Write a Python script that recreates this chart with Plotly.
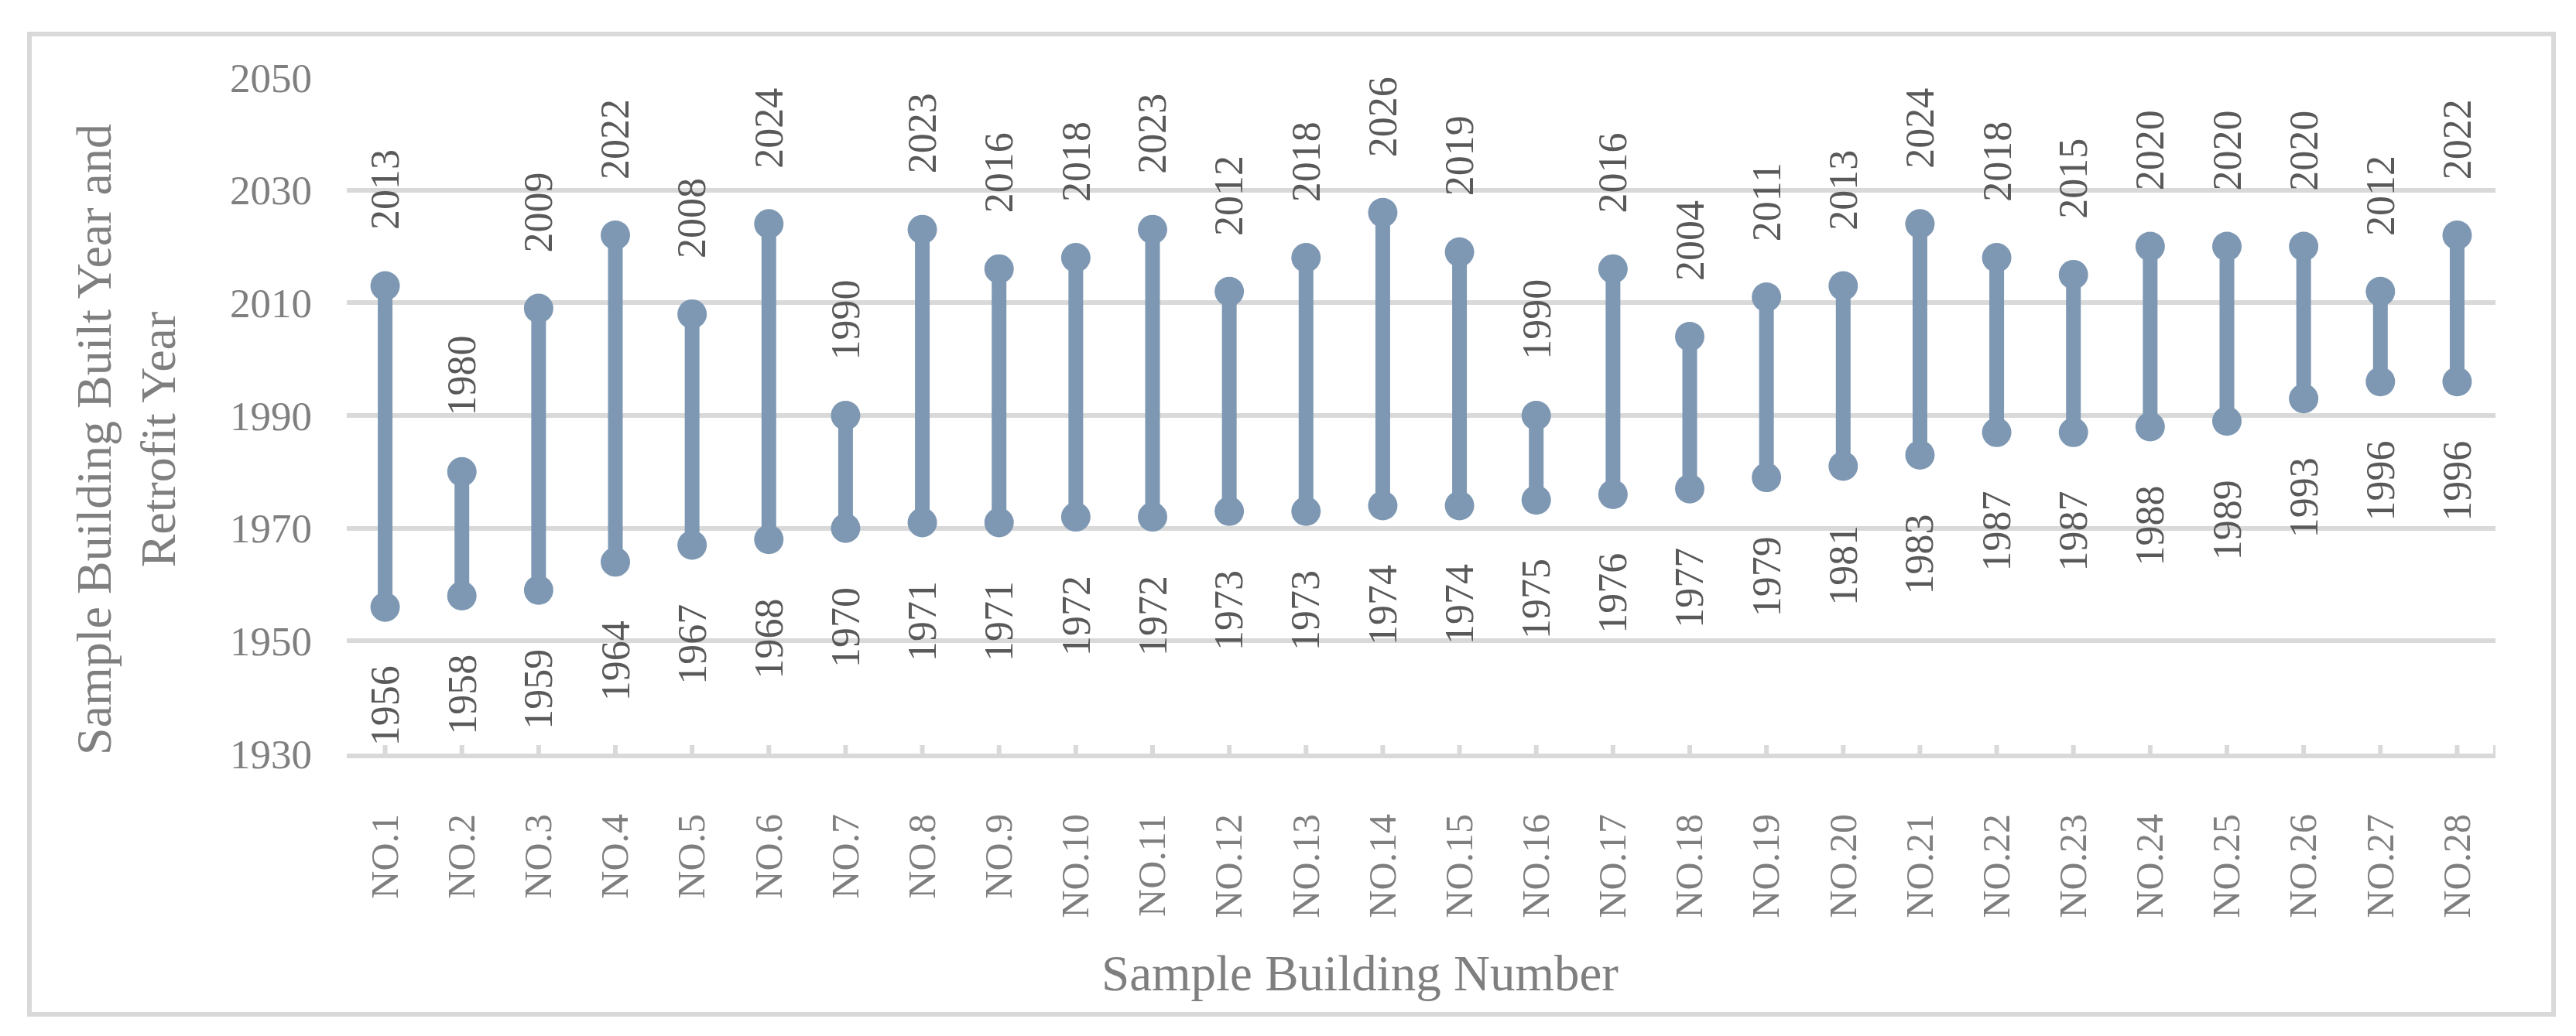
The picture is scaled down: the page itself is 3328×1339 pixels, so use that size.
import plotly.graph_objects as go

# ---------------- data ----------------
categories = ["NO.1", "NO.2", "NO.3", "NO.4", "NO.5", "NO.6", "NO.7", "NO.8", "NO.9", "NO.10",
              "NO.11", "NO.12", "NO.13", "NO.14", "NO.15", "NO.16", "NO.17", "NO.18", "NO.19", "NO.20",
              "NO.21", "NO.22", "NO.23", "NO.24", "NO.25", "NO.26", "NO.27", "NO.28"]
built_year = [1956, 1958, 1959, 1964, 1967, 1968, 1970, 1971, 1971, 1972,
              1972, 1973, 1973, 1974, 1974, 1975, 1976, 1977, 1979, 1981,
              1983, 1987, 1987, 1988, 1989, 1993, 1996, 1996]
retrofit_year = [2013, 1980, 2009, 2022, 2008, 2024, 1990, 2023, 2016, 2018,
                 2023, 2012, 2018, 2026, 2019, 1990, 2016, 2004, 2011, 2013,
                 2024, 2018, 2015, 2020, 2020, 2020, 2012, 2022]
y_ticks = [1930, 1950, 1970, 1990, 2010, 2030, 2050]

# ---------------- style ----------------
W, H = 3328, 1339
PL, PR, PT, PB = 440, 3216, 92, 966          # plot area in pixels
PW, PH = PR - PL, PB - PT
FONT = "Liberation Serif, Times New Roman, serif"
BLUE = "#7e98b3"
GRID = "#d9d9d9"
AXTXT = "#7f7f7f"
LBLTXT = "#595959"


def px_to_paper_x(px):
    return (px - PL) / PW


def px_to_paper_y(py):
    return (PB - py) / PH


fig = go.Figure()

# stems
stem_x, stem_y = [], []
for c, b, r in zip(categories, built_year, retrofit_year):
    stem_x += [c, c, None]
    stem_y += [b, r, None]
fig.add_trace(go.Scatter(x=stem_x, y=stem_y, mode="lines",
                         line=dict(color=BLUE, width=19), hoverinfo="skip",
                         showlegend=False))

# end points
fig.add_trace(go.Scatter(x=categories + categories, y=built_year + retrofit_year,
                         mode="markers", marker=dict(size=38, color=BLUE, line=dict(width=0)),
                         showlegend=False, cliponaxis=False))

annotations = []
for c, r in zip(categories, retrofit_year):
    annotations.append(dict(x=c, y=r, xref="x", yref="y", text=str(r), textangle=-90,
                            showarrow=False, xanchor="center", yanchor="bottom", yshift=70,
                            font=dict(family=FONT, size=52, color=LBLTXT)))
for c, b in zip(categories, built_year):
    annotations.append(dict(x=c, y=b, xref="x", yref="y", text=str(b), textangle=-90,
                            showarrow=False, xanchor="center", yanchor="top", yshift=-74,
                            font=dict(family=FONT, size=52, color=LBLTXT)))

# axis titles
annotations.append(dict(x=px_to_paper_x(1749), y=px_to_paper_y(1250), xref="paper", yref="paper",
                        text="Sample Building Number", showarrow=False,
                        xanchor="center", yanchor="middle",
                        font=dict(family=FONT, size=65, color=AXTXT)))
annotations.append(dict(x=px_to_paper_x(155), y=px_to_paper_y(560), xref="paper", yref="paper",
                        text="Sample Building Built Year and<br>Retrofit Year", showarrow=False,
                        textangle=-90, xanchor="center", yanchor="middle",
                        font=dict(family=FONT, size=64, color=AXTXT)))

shapes = []
# x-axis tick marks crossing the axis line (at each category and at the axis end)
n = len(categories)
tick_pos = list(range(n)) + [n - 0.5]
for p in tick_pos:
    shapes.append(dict(type="line", xref="x", yref="y", x0=p, x1=p,
                       ysizemode="pixel", yanchor=y_ticks[0], y0=-11, y1=11,
                       line=dict(color=GRID, width=6), layer="below"))
# outer chart border
shapes.append(dict(type="rect", xref="paper", yref="paper",
                   x0=px_to_paper_x(30), x1=px_to_paper_x(3291),
                   y0=px_to_paper_y(1303), y1=px_to_paper_y(36),
                   line=dict(color=GRID, width=6), fillcolor="rgba(0,0,0,0)", layer="below"))

fig.update_layout(
    width=W, height=H,
    margin=dict(l=PL, r=W - PR, t=PT, b=H - PB, pad=0),
    paper_bgcolor="white", plot_bgcolor="white",
    showlegend=False,
    annotations=annotations,
    shapes=shapes,
    font=dict(family=FONT, color=AXTXT),
)
fig.update_xaxes(type="category", categoryorder="array", categoryarray=categories,
                 range=[-0.5, n - 0.5], showgrid=False, zeroline=False,
                 showline=True, linecolor=GRID, linewidth=6,
                 ticks="", tickangle=-90, ticklabelstandoff=52,
                 tickfont=dict(family=FONT, size=50, color=AXTXT))
fig.update_yaxes(range=[y_ticks[0], y_ticks[-1]], tickmode="array", tickvals=y_ticks,
                 showgrid=True, gridcolor=GRID, gridwidth=6, zeroline=False,
                 showline=False, ticks="", ticklabelstandoff=44,
                 tickfont=dict(family=FONT, size=53, color=AXTXT))

fig.write_html("out.html")
